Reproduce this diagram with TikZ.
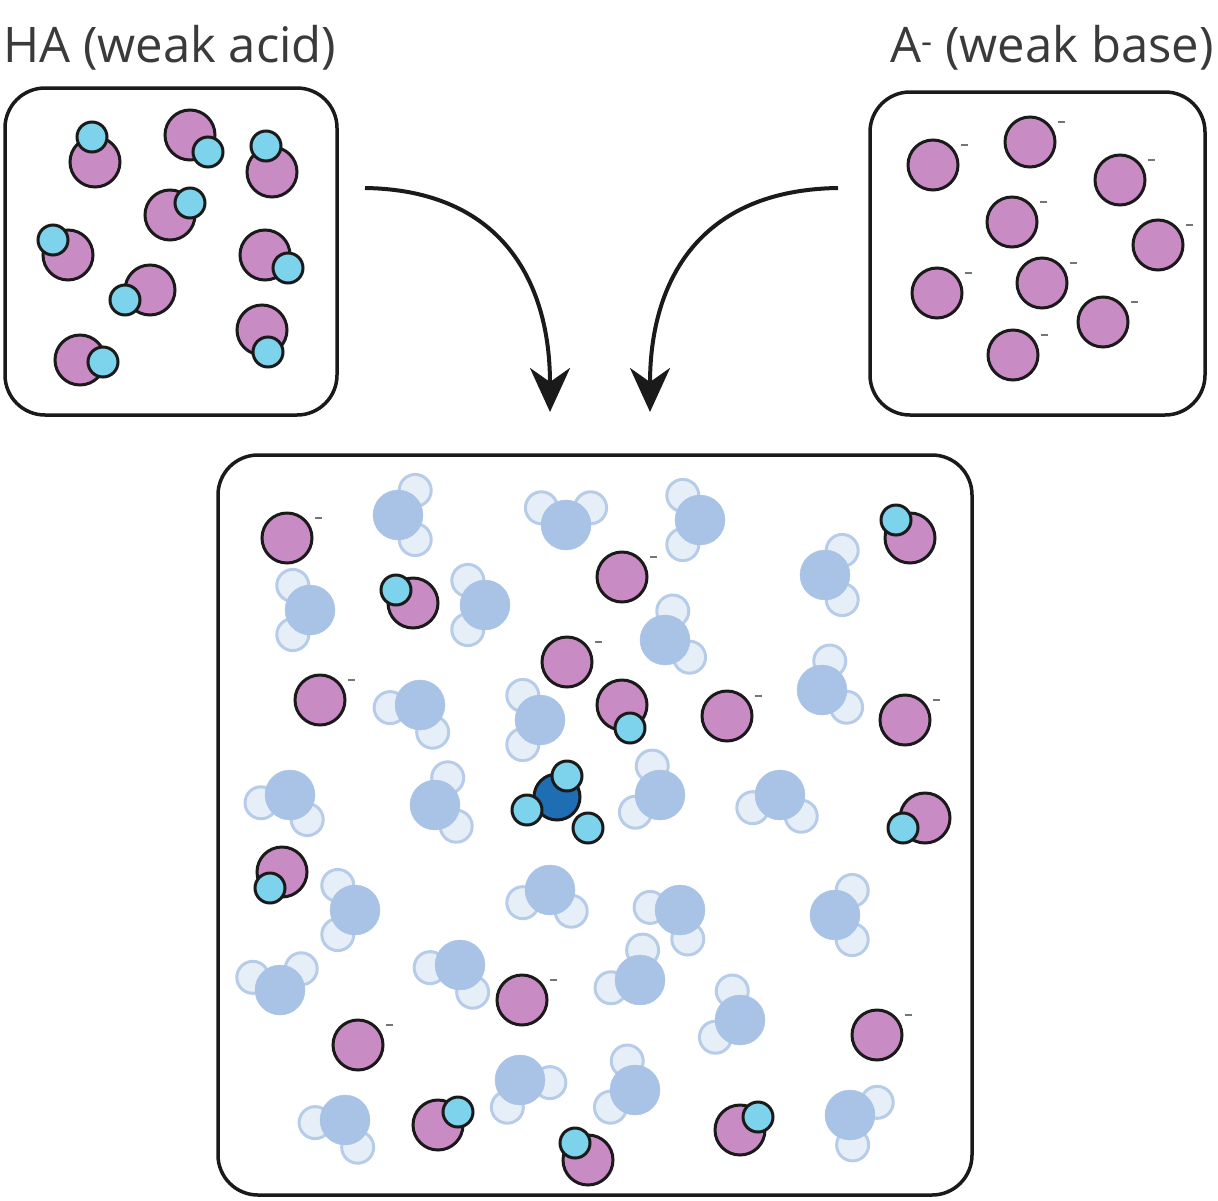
\documentclass[tikz,border=0pt]{standalone}
\usepackage{fontspec}
\setmainfont{Open Sans}
\usetikzlibrary{arrows.meta,calc}
\definecolor{pinkA}{HTML}{C98BC4}
\definecolor{cyanH}{HTML}{7DD3EC}
\definecolor{outl}{HTML}{1A1A1A}
\definecolor{wO}{HTML}{A9C3E6}
\definecolor{wH}{HTML}{E6EFF8}
\definecolor{wHs}{HTML}{B7CCE8}
\definecolor{hyd}{HTML}{1F6DB3}
\definecolor{txt}{HTML}{3A3A3A}
\tikzset{
 box/.style={draw=outl,line width=3.5pt,rounded corners=40pt},
 pinkat/.style={circle,fill=pinkA,draw=outl,line width=3pt,minimum size=50pt,inner sep=0},
 hat/.style={circle,fill=cyanH,draw=outl,line width=3pt,minimum size=30pt,inner sep=0},
 wox/.style={circle,fill=wO,draw=wO,minimum size=50pt,inner sep=0},
 whh/.style={circle,fill=wH,draw=wHs,line width=3pt,minimum size=32pt,inner sep=0},
 minus/.style={draw=txt!70,line width=1.2pt},
 arr/.style={draw=outl,line width=4pt,-{Stealth[length=44pt,width=40pt,inset=14pt]}},
 lab/.style={font=\fontsize{49pt}{54pt}\selectfont,text=txt,inner sep=0}
}
\newcommand\HAm[4]{\node[pinkat] at (#1,#2) {};\node[hat] at (#3,#4) {};}
\newcommand\Am[2]{\node[pinkat] at (#1,#2) {};\draw[minus] (#1+28,#2-20) -- ++(7,0);}
\newcommand\wat[3]{\node[whh] at ($(#1,#2)+(#3+55:30)$) {};\node[whh] at ($(#1,#2)+(#3-55:30)$) {};\node[wox] at (#1,#2) {};}
\begin{document}
\begin{tikzpicture}[x=1pt,y=-1pt]
\useasboundingbox (0,0) rectangle (1218,1200);
\node[lab,anchor=west] (la) at (3,48) {HA (weak acid)};
\node[lab,anchor=east] (lb) at (1214,48) {A\textsuperscript{-} (weak base)};
\draw[box] (5,88) rectangle (337,415);
\draw[box] (870,92) rectangle (1205,415);
\draw[box] (218,455) rectangle (972,1195);
\coordinate (a1) at (365,188); \coordinate (a2) at (550,412);
\coordinate (b1) at (838,188); \coordinate (b2) at (650,412);
\draw[arr] (a1) .. controls (500,190) and (550,280) .. (a2);
\draw[arr] (b1) .. controls (700,190) and (650,280) .. (b2);
% left box
\HAm{95}{162}{92}{137}
\HAm{190}{135}{208}{152}
\HAm{272}{172}{266}{146}
\HAm{170}{215}{190}{203}
\HAm{68}{255}{53}{240}
\HAm{265}{255}{288}{268}
\HAm{150}{290}{125}{300}
\HAm{262}{330}{268}{352}
\HAm{80}{360}{103}{362}
% right box
\Am{933}{165}\Am{1030}{142}\Am{1120}{180}\Am{1012}{222}\Am{1158}{245}
\Am{937}{293}\Am{1042}{283}\Am{1103}{322}\Am{1013}{355}
% water
\wat{398}{515}{0}\wat{566}{525}{-90}\wat{700}{520}{180}\wat{825}{575}{0}
\wat{310}{610}{180}\wat{485}{605}{180}\wat{665}{640}{-20}\wat{420}{705}{120}
\wat{540}{720}{180}\wat{822}{690}{-20}\wat{290}{795}{110}\wat{435}{805}{-10}
\wat{660}{795}{200}\wat{780}{795}{100}\wat{550}{890}{100}\wat{355}{910}{180}
\wat{680}{910}{130}\wat{835}{915}{0}\wat{460}{965}{120}\wat{640}{980}{220}
\wat{280}{990}{-100}\wat{740}{1020}{200}\wat{520}{1080}{60}\wat{635}{1090}{200}
\wat{345}{1120}{120}\wat{850}{1115}{30}
% A- bottom
\Am{287}{538}\Am{622}{577}\Am{567}{662}\Am{320}{700}\Am{727}{716}
\Am{905}{720}\Am{522}{1000}\Am{358}{1045}\Am{877}{1035}
% HA bottom
\HAm{910}{538}{896}{520}
\HAm{413}{603}{396}{590}
\HAm{622}{705}{630}{728}
\HAm{925}{818}{903}{828}
\HAm{282}{872}{270}{888}
\HAm{438}{1125}{458}{1112}
\HAm{588}{1160}{575}{1143}
\HAm{740}{1130}{758}{1117}
% hydronium
\node[circle,fill=hyd,draw=outl,line width=3pt,minimum size=46pt,inner sep=0] (ho) at (557,797) {};
\node[hat] at (567,776) {};
\node[hat] at (527,810) {};
\node[hat] at (588,828) {};
\end{tikzpicture}
\end{document}
